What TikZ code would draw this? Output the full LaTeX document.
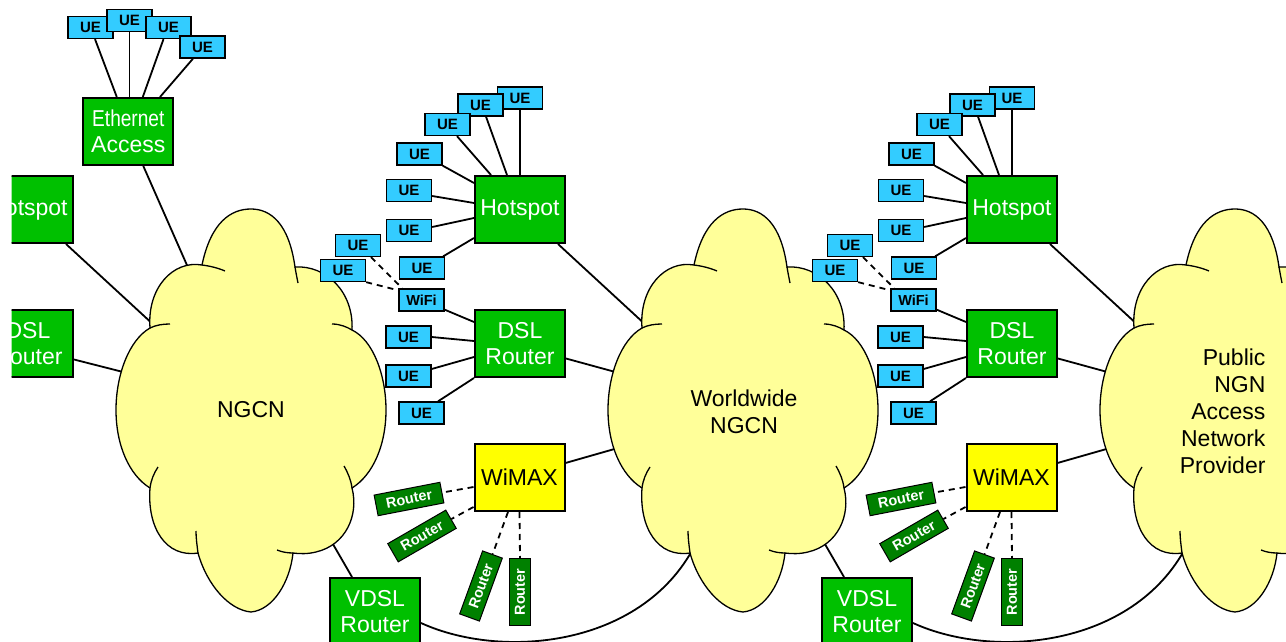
\documentclass[tikz,border=0pt]{standalone}
\usepackage{fontspec}
\setmainfont{Liberation Sans}
\usetikzlibrary{calc}

\pgfdeclarelayer{links}
\pgfdeclarelayer{clouds}
\pgfsetlayers{links,clouds,main}

\definecolor{boxgreen}{RGB}{0,192,0}
\definecolor{routergreen}{RGB}{0,128,0}
\definecolor{uecyan}{RGB}{51,204,255}
\definecolor{cloudyellow}{RGB}{255,255,153}
\definecolor{wimaxyellow}{RGB}{255,255,0}

\tikzset{
  gbox/.style={draw=black, line width=2pt, fill=boxgreen, text=white,
    minimum width=90pt, minimum height=67pt, inner sep=0pt, align=center,
    font=\fontsize{23}{26}\selectfont},
  ybox/.style={gbox, fill=wimaxyellow, text=black},
  uebox/.style={draw=black, line width=1.3pt, fill=uecyan,
    minimum width=45pt, minimum height=22pt, inner sep=0pt,
    font=\fontsize{15}{15}\selectfont\bfseries},
  rbox/.style={draw=black, line width=1pt, fill=routergreen, text=white,
    minimum width=67pt, minimum height=21pt, inner sep=0pt,
    font=\fontsize{14.5}{14.5}\selectfont\bfseries},
  wire/.style={line width=1.8pt},
  radiolink/.style={line width=1.8pt, dash pattern=on 6pt off 5pt},
  cloudline/.style={line width=1.3pt},
  cloudtext/.style={align=center, font=\fontsize{23}{27}\selectfont},
}

% cloud outline around centre (#1,#2): filled body plus the short inner strokes
\newcommand\netcloud[2]{%
  \begin{pgfonlayer}{clouds}
  \begin{scope}[shift={(#1,#2)}]
    \filldraw[cloudline, fill=cloudyellow]
      (-49,-145) .. controls (-40,-188) and (-20,-201) .. (0,-201)
      .. controls (20,-201) and (38,-186) .. (44,-143)
      .. controls (75,-145) and (103,-118) .. (101,-80)
      .. controls (122,-70) and (135,-35) .. (135,0)
      .. controls (135,35) and (122,65) .. (101,78)
      .. controls (108,105) and (95,135) .. (65,142)
      .. controls (57,144) and (49,144) .. (42,143)
      .. controls (39,172) and (22,200) .. (0,202)
      .. controls (-22,200) and (-44,175) .. (-53,143)
      .. controls (-85,148) and (-104,118) .. (-101,78)
      .. controls (-122,65) and (-135,35) .. (-135,0)
      .. controls (-135,-35) and (-122,-70) .. (-101,-82)
      .. controls (-104,-122) and (-78,-150) .. (-49,-145) -- cycle;
    \draw[cloudline]
      (-49,-145) .. controls (-41,-144) and (-33,-142) .. (-26,-139)
      (44,-143) .. controls (45,-137) and (46,-132) .. (47,-127)
      (81,-86) .. controls (89,-86) and (96,-83) .. (101,-80)
      (93,56) .. controls (97,63) and (100,70) .. (101,78)
      (42,143) .. controls (36,143) and (31,142) .. (26,140)
      (-53,143) .. controls (-54,135) and (-55,128) .. (-55,121)
      (-101,78) .. controls (-100,70) and (-97,63) .. (-93,57)
      (-101,-82) .. controls (-95,-85) and (-88,-86) .. (-81,-86);
  \end{scope}
  \end{pgfonlayer}}

% attachment points on a cloud
\newcommand\cloudports[3]{%
  \coordinate (#1-hs) at (#2-95,#3-83);
  \coordinate (#1-dsl) at (#2-124,#3-37);
  \coordinate (#1-wmx) at (#2-125,#3+38);
  \coordinate (#1-vd) at (#2+79,#3+129);
  \coordinate (#1-vc) at (#2-49,#3+137);
  \coordinate (#1-eth) at (#2-61,#3-138);}

% one access site: prefix, x offset, cloud on its left, cloud on its right
\newcommand\accesssite[4]{%
  \begin{scope}[shift={(#2,0)}]
    \node[gbox] (#1hot) at (520,209.5) {Hotspot};
    \node[gbox] (#1dsl) at (520,343.5) {DSL\\Router};
    \node[ybox] (#1wmx) at (519.5,477.5) {WiMAX};
    \node[gbox] (#1vdsl) at (375,611.5) {VDSL\\Router};
    \node[uebox] (#1ua) at (520,98) {UE};
    \node[uebox] (#1ub) at (480.5,105) {UE};
    \node[uebox] (#1uc) at (447.5,124.5) {UE};
    \node[uebox] (#1ud) at (419.5,154) {UE};
    \node[uebox] (#1ue) at (409,190.5) {UE};
    \node[uebox] (#1uf) at (409,230.5) {UE};
    \node[uebox] (#1ug) at (422,268) {UE};
    \node[uebox] (#1uh) at (358,245.5) {UE};
    \node[uebox] (#1ui) at (343,270.5) {UE};
    \node[uebox, font=\fontsize{14.5}{14.5}\selectfont\bfseries] (#1wifi) at (421.5,300) {WiFi};
    \node[uebox] (#1uj) at (408.5,337) {UE};
    \node[uebox] (#1uk) at (408.5,376) {UE};
    \node[uebox] (#1ul) at (421.5,413) {UE};
    \node[rbox, rotate=11] (#1ra) at (409,499) {Router};
    \node[rbox, rotate=30] (#1rb) at (422,536) {Router};
    \node[rbox, rotate=70] (#1rc) at (481,586) {Router};
    \node[rbox, rotate=90] (#1rd) at (520,592) {Router};
  \end{scope}
  \begin{pgfonlayer}{links}
    \draw[wire] (#1ua.south) -- (#1hot.north);
    \draw[wire] ([xshift=5.5pt]#1ub.south) -- ([xshift=-13pt]#1hot.north);
    \draw[wire] ([xshift=9.5pt]#1uc.south) -- ([xshift=-29pt]#1hot.north);
    \draw[wire] (#1ud.south east) -- ([yshift=-8pt]#1hot.north west);
    \draw[wire] ([yshift=-5.5pt]#1ue.east) -- ([yshift=6.5pt]#1hot.west);
    \draw[wire] ([yshift=3.5pt]#1uf.east) -- ([yshift=-8.5pt]#1hot.west);
    \draw[wire] ([xshift=-2pt]#1ug.north east) -- ([yshift=6pt]#1hot.south west);
    \draw[radiolink] ([xshift=13pt]#1uh.south) -- ([xshift=4pt]#1wifi.north west);
    \draw[radiolink] (#1ui.south east) -- ([yshift=-2pt]#1wifi.north west);
    \draw[wire] ([yshift=2pt]#1wifi.south east) -- ([yshift=-13pt]#1dsl.north west);
    \draw[wire] (#1uj.east) -- ([yshift=2.5pt]#1dsl.west);
    \draw[wire] ([yshift=7pt]#1uk.east) -- ([yshift=-13.5pt]#1dsl.west);
    \draw[wire] ([xshift=16.5pt]#1ul.north) -- (#1dsl.south west);
    \draw[wire] ([xshift=-8pt]#1hot.south east) -- (#4-hs);
    \draw[wire] ([yshift=-15pt]#1dsl.east) -- (#4-dsl);
    \draw[wire] ([yshift=14.5pt]#1wmx.east) -- (#4-wmx);
    \draw[radiolink] ([yshift=-9.5pt]#1wmx.west) -- (#1ra.east);
    \draw[radiolink] ([yshift=5pt]#1wmx.south west) -- (#1rb.east);
    \draw[radiolink] ([xshift=-11.5pt]#1wmx.south) -- (#1rc.east);
    \draw[radiolink] (#1wmx.south) -- (#1rd.east);
    \draw[wire] (#3-vd) -- ([xshift=23pt]#1vdsl.north west);
    \draw[wire] ([yshift=-11.5pt]#1vdsl.east) .. controls +(81,37) and +(-53,100) .. (#4-vc);
  \end{pgfonlayer}}

\begin{document}
\begin{tikzpicture}[x=1pt,y=-1pt]
  \useasboundingbox (0,0) rectangle (1286,642);

  % core clouds
  \netcloud{251}{410}
  \netcloud{743}{410}
  \netcloud{1235}{410}
  \cloudports{ngcn}{251}{410}
  \cloudports{wwn}{743}{410}
  \cloudports{pub}{1235}{410}
  \node[cloudtext] (ngcnlabel) at (251,410) {NGCN};
  \node[cloudtext] (wwnlabel) at (744,411.5) {Worldwide\\NGCN};
  \node[cloudtext, anchor=east, align=right] (publabel) at (1269,411)
    {Public\\NGN\\Access\\Network\\Provider};

  % left site (partly outside the frame)
  \begin{scope}
    \clip (11.5,0) rectangle (200,400);
    \node[gbox] (lhot) at (28,209.5) {Hotspot};
    \node[gbox] (ldsl) at (28,343.5) {DSL\\Router};
  \end{scope}
  \node[gbox] (eth) at (128.3,131.5) {\scalebox{0.83}[1]{Ethernet}\\Access};
  \node[uebox] (eu1) at (90.5,27.5) {UE};
  \node[uebox] (eu2) at (129.5,20.5) {UE};
  \node[uebox] (eu3) at (168.5,27.5) {UE};
  \node[uebox] (eu4) at (202.5,47) {UE};
  \begin{pgfonlayer}{links}
    \draw[wire] ([xshift=4.5pt]eu1.south) -- ([xshift=-11.5pt]eth.north);
    \draw[wire] (eu2.south) -- ([xshift=1.2pt]eth.north);
    \draw[wire] ([xshift=-5pt]eu3.south) -- ([xshift=14.5pt]eth.north);
    \draw[wire] ([xshift=-9.5pt]eu4.south) -- ([xshift=31.7pt]eth.north);
    \draw[wire] ([xshift=15pt]eth.south) -- (ngcn-eth);
    \draw[wire] ([xshift=-8pt]lhot.south east) -- (ngcn-hs);
    \draw[wire] ([yshift=-16pt]ldsl.east) -- (ngcn-dsl);
  \end{pgfonlayer}

  % access sites between the clouds
  \accesssite{m}{0}{ngcn}{wwn}
  \accesssite{r}{492}{wwn}{pub}
\end{tikzpicture}
\end{document}
